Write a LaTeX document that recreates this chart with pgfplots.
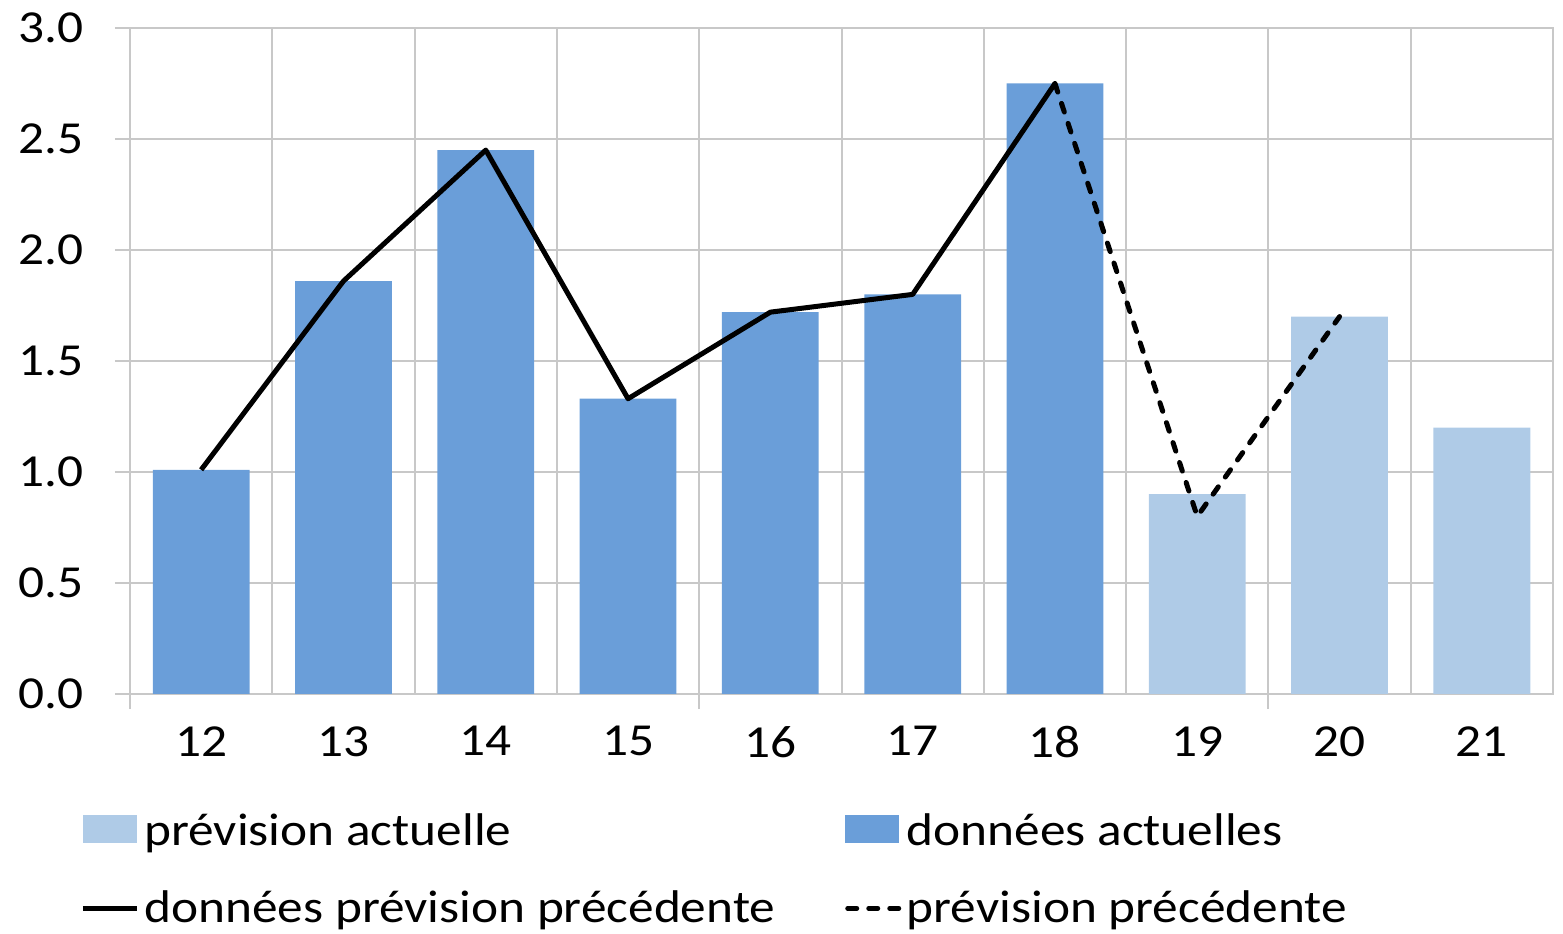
\documentclass[border=0pt]{standalone}
\usepackage{pgfplots}
\pgfplotsset{compat=1.18}
\usepackage{fontspec}
\setmainfont{Carlito}[FakeStretch=1.12]
\definecolor{dark}{RGB}{106,158,217}
\definecolor{light}{RGB}{175,203,231}
\definecolor{gridgray}{RGB}{200,200,200}

\begin{document}
\begin{tikzpicture}
\useasboundingbox (0,0) rectangle (781.5bp,467bp);
\begin{axis}[
  at={(65bp,120bp)}, anchor=south west,
  scale only axis, width=711.5bp, height=333bp,
  xmin=-0.5, xmax=9.5, ymin=0, ymax=3,
  xtick={0,...,9}, xticklabels={12,13,14,15,16,17,18,19,20,21},
  ytick={0,0.5,...,3},
  minor xtick={-0.5,0.5,...,9.5},
  xminorgrids=true, ymajorgrids=true,
  grid style={gridgray, line width=1bp},
  axis line style={gridgray, line width=1bp},
  tick pos=left, tick align=outside,
  major tick length=7.5bp, minor tick length=0pt,
  ytick style={gridgray, line width=1bp},
  major x tick style={draw=none},
  extra x ticks={-0.5,3.5,7.5}, extra x tick labels={},
  extra x tick style={grid=none, major x tick style={draw=gridgray, line width=1bp}},
  scaled y ticks=false,
  yticklabel style={/pgf/number format/fixed, /pgf/number format/fixed zerofill,
    /pgf/number format/precision=1},
  /pgf/number format/assume math mode=true,
  tick label style={font=\fontsize{23}{27}\selectfont, black},
  xticklabel style={inner sep=0pt, yshift=-8.5bp},
  yticklabel style={inner sep=0pt, xshift=-15.5bp},
  legend columns=2, legend cell align=left,
  legend style={at={(-0.0351,-0.2635)}, anchor=west, draw=none, fill=none,
    inner sep=0pt, font=\fontsize{23}{27}\selectfont, row sep=21.5bp,
    column sep=0bp, nodes={inner sep=0pt, inner xsep=2.5bp},
    /tikz/every even column/.append style={column sep=32.5bp}},
]
% bars: forecast (light) and actual data (dark)
\addplot[ybar, bar width=0.68, bar shift=0pt, fill=light, draw=none,
  legend image code/.code={\fill[light] (0bp,-6bp) rectangle (27bp,8bp);}]
  coordinates {(7,0.90) (8,1.70) (9,1.20)};
\addlegendentry{prévision actuelle}
\addplot[ybar, bar width=0.68, bar shift=0pt, fill=dark, draw=none,
  legend image code/.code={\fill[dark] (0bp,-6bp) rectangle (27bp,8bp);}]
  coordinates {(0,1.01) (1,1.86) (2,2.45) (3,1.33) (4,1.72) (5,1.80) (6,2.75)};
\addlegendentry{données actuelles}
% previous forecast lines
\addplot[black, line width=2.5bp, line join=round,
  legend image code/.code={\draw[black, line width=2.5bp] (0bp,0bp) -- (27bp,0bp);}]
  coordinates {(0,1.01) (1,1.86) (2,2.45) (3,1.33) (4,1.72) (5,1.80) (6,2.75)};
\addlegendentry{données prévision précédente}
\addplot[black, line width=2.5bp, line join=round, line cap=round,
  dash pattern=on 4.5bp off 6bp,
  legend image code/.code={\draw[black, line width=2.5bp, line cap=round,
    dash pattern=on 4.5bp off 6bp] (1.25bp,0bp) -- (27bp,0bp);}]
  coordinates {(6,2.75) (7,0.80) (8,1.70)};
\addlegendentry{prévision précédente}
\end{axis}
\end{tikzpicture}
\end{document}
